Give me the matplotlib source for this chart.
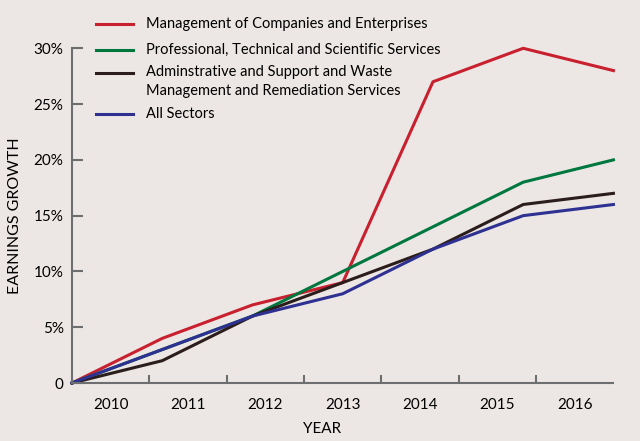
import numpy as np
import matplotlib.pyplot as plt
from matplotlib.lines import Line2D

plt.rcParams['font.family'] = ['Lato', 'DejaVu Sans']

# Data (earnings growth, %)
years = ['2010', '2011', '2012', '2013', '2014', '2015', '2016']
mgmt = [0, 4, 7, 9, 27, 30, 28]
prof = [0, 3, 6, 10, 14, 18, 20]
admin = [0, 2, 6, 9, 12, 16, 17]
all_sectors = [0, 3, 6, 8, 12, 15, 16]

names = ['Management of Companies and Enterprises',
         'Professional, Technical and Scientific Services',
         'Adminstrative and Support and Waste\nManagement and Remediation Services',
         'All Sectors']
colors = ['#c8202f', '#00773f', '#2b1d1b', '#2e3192']

bg = '#ece7e4'
axis_col = '#6d6e70'

fig = plt.figure(figsize=(6.4, 4.41), dpi=100, facecolor=bg)
ax = fig.add_axes([0.1125, 0.1315, 0.846, 0.759])
ax.set_facecolor(bg)

# points spread over the full width, labels sit in the 7 year slots
n = len(years)
xs = np.arange(n) * n / (n - 1)
for series, c in zip([mgmt, prof, admin, all_sectors], colors):
    ax.plot(xs, series, color=c, lw=2.2, clip_on=False)

ax.set_xlim(0, n)
ax.set_ylim(0, 30)

for s in ['top', 'right']:
    ax.spines[s].set_visible(False)
for s in ['left', 'bottom']:
    ax.spines[s].set_color(axis_col)
    ax.spines[s].set_linewidth(1.5)

ax.set_yticks(np.arange(0, 31, 5))
ax.set_yticklabels(['0', '5%', '10%', '15%', '20%', '25%', '30%'])
ax.tick_params(axis='y', direction='in', length=8, width=1.5, color=axis_col,
               pad=6, labelsize=11)

ax.set_xticks(np.arange(1, n))
ax.set_xticklabels([])
ax.set_xticks(np.arange(n) + 0.5, minor=True)
ax.set_xticklabels(years, minor=True)
ax.tick_params(axis='x', which='major', direction='in', length=6, width=1.5,
               color=axis_col)
ax.tick_params(axis='x', which='minor', length=0, pad=11, labelsize=11)

ax.set_xlabel('YEAR', fontsize=11)
ax.xaxis.set_label_coords(0.462, -0.115)
ax.set_ylabel('EARNINGS GROWTH', fontsize=11.5)
ax.yaxis.set_label_coords(-0.106, 0.5)
ax.yaxis.label.set_va('center')

# legend drawn by hand, top-left
rows_y = [417, 391, 368, 327]
for name, c, y in zip(names, colors, rows_y):
    yf = y / 441
    fig.add_artist(Line2D([96 / 640, 133 / 640], [yf, yf], color=c, lw=2.2))
    if '\n' in name:
        fig.text(146 / 640, yf + 8 / 441, name, fontsize=10.5, va='top',
                 linespacing=1.5)
    else:
        fig.text(146 / 640, yf, name, fontsize=10.5, va='center')

fig.savefig('out.png', dpi=100, facecolor=bg)
